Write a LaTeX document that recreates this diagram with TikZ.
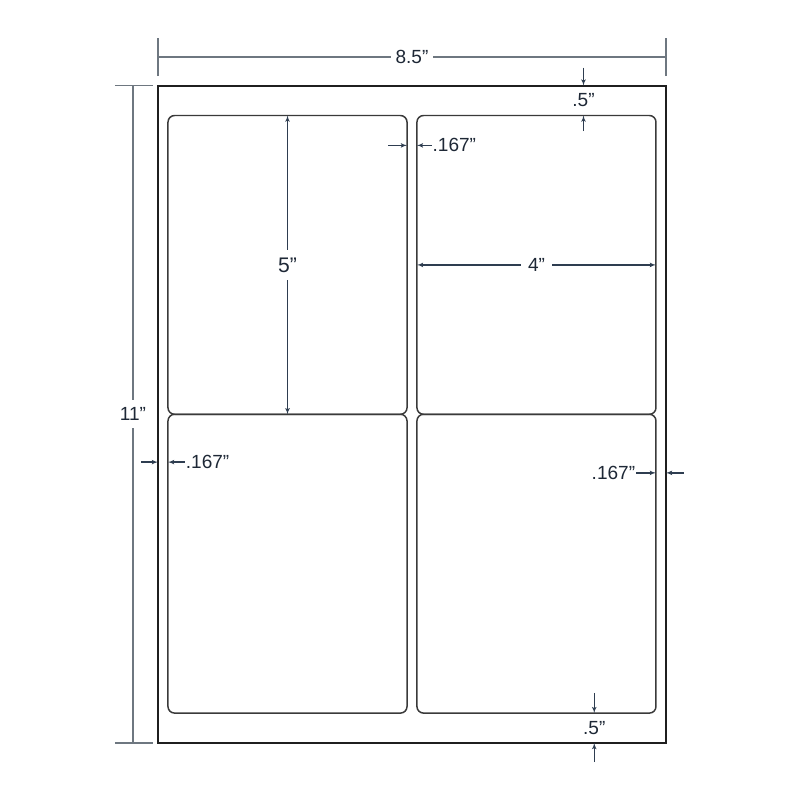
\documentclass[tikz,border=0pt]{standalone}
\usepackage{fontspec}
\setmainfont{Liberation Sans}
\usepackage{tikz}
\usetikzlibrary{shapes,arrows}
\definecolor{dimblue}{HTML}{2E3D50}
\definecolor{inkblue}{HTML}{1E2836}
\definecolor{extgray}{HTML}{6E7780}
\definecolor{edgegray}{HTML}{3A3A3A}
\tikzstyle{sheet} = [rectangle, draw=black!88, line width=2.4pt,
    minimum width=8.5in, minimum height=11in, inner sep=0pt, outer sep=0pt]
\tikzstyle{block} = [rectangle, draw=edgegray, line width=1.8pt, rounded corners=8pt,
    minimum width=4in, minimum height=5in, inner sep=0pt, outer sep=0pt]
\tikzstyle{line} = [draw=dimblue, line width=1.6pt, -latex']
\tikzstyle{ext} = [draw=extgray, line width=1.5pt]

\begin{document}
\begin{tikzpicture}[x=1in, y=1in,
    dim/.style={draw=dimblue, line width=1.6pt, latex'-latex', every node/.style={fill=white, inner sep=6pt}},
    txt/.style={text=inkblue, font=\fontsize{23}{27}\selectfont, inner sep=1pt}]
\useasboundingbox (-2.644,-0.954) rectangle (10.743,12.433);
\node [sheet] at (4.25,5.5) (page) {};
\node [block] at (2.167,8) (tl) {};
\node [block] at (6.333,8) (tr) {};
\node [block] at (2.167,3) (bl) {};
\node [block] at (6.333,3) (br) {};

% overall width and height
\coordinate (wl) at (0,11.48);
\coordinate (wr) at (8.5,11.48);
\draw [ext] ([yshift=0.16in]page.north west) -- ([yshift=0.8in]page.north west);
\draw [ext] ([yshift=0.16in]page.north east) -- ([yshift=0.8in]page.north east);
\draw [ext] (wl) -- node [txt, fill=white, inner sep=5pt] (wtxt) {8.5”} (wr);
\coordinate (hb) at (-0.418,0);
\coordinate (ht) at (-0.418,11);
\draw [ext] ([xshift=-0.72in]page.north west) -- ([xshift=-0.084in]page.north west);
\draw [ext] ([xshift=-0.72in]page.south west) -- ([xshift=-0.084in]page.south west);
\draw [ext] (hb) -- node [txt, fill=white, inner sep=9pt] (htxt) {11”} (ht);

% label size
\draw [dim] (tl.north) -- node [txt, fill=white, inner sep=9pt, font=\fontsize{25.5}{30}\selectfont] (ltxt) {5”} (tl.south);
\draw [dim] (tr.west) -- node [txt, fill=white, inner sep=9pt] (btxt) {4”} (tr.east);

% gaps
\node [txt, anchor=west] at (4.58,10.0) (gapa) {.167”};
\coordinate (a1) at (3.85,10.0);
\draw [line] (a1) -- (a1 -| tl.east);
\draw [line] (gapa.west) -- (gapa.west -| tr.west);

\node [txt, anchor=west] at (0.45,4.70) (gapb) {.167”};
\coordinate (a5) at (-0.28,4.70);
\draw [line] (a5) -- (a5 -| page.west);
\draw [line] (gapb.west) -- (gapb.west -| bl.west);

\node [txt, anchor=east] at (8.0,4.52) (gapc) {.167”};
\coordinate (a6) at (8.8,4.52);
\draw [line] (gapc.east) -- (gapc.east -| br.east);
\draw [line] (a6) -- (a6 -| page.east);

% margins
\node [txt] at (7.12,10.76) (topm) {.5”};
\coordinate (a3) at (7.12,11.3);
\coordinate (a4) at (7.12,10.24);
\draw [line] (a3) -- (a3 |- page.north);
\draw [line] (a4) -- (a4 |- tr.north);

\node [txt] at (7.30,0.25) (botm) {.5”};
\coordinate (a7) at (7.30,0.84);
\coordinate (a8) at (7.30,-0.32);
\draw [line] (a7) -- (a7 |- br.south);
\draw [line] (a8) -- (a8 |- page.south);
\end{tikzpicture}
\end{document}
